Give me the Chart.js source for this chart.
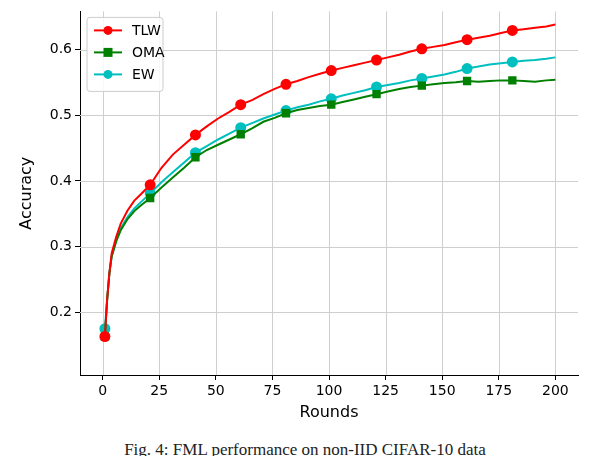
<!DOCTYPE html>
<html><head><meta charset="utf-8">
<script src="https://cdn.jsdelivr.net/npm/chart.js@4"></script>
<style>body{margin:0;background:#fff;width:610px;height:456px;overflow:hidden;position:relative}
#cap{position:absolute;left:0;top:440px;width:610px;text-align:center;font-family:'Liberation Serif',serif;font-size:17px;color:#222;white-space:nowrap}</style>
</head><body>
<div style="width:610px;height:422px"><canvas id="c"></canvas></div>
<div id="cap">Fig. 4: FML performance on non-IID CIFAR-10 data</div>
<script>
const rounds=[1,2,3,4,6,8,11,14,17,21,26,31,36,41,46,51,56,61,66,71,76,81,86,91,96,101,106,111,116,121,126,131,136,141,146,151,156,161,166,171,176,181,186,191,196,200];
const tlw=[0.163,0.22,0.26,0.29,0.315,0.335,0.355,0.37,0.38,0.394,0.42,0.44,0.455,0.47,0.483,0.495,0.505,0.516,0.523,0.532,0.54,0.547,0.552,0.558,0.563,0.568,0.572,0.576,0.58,0.584,0.588,0.592,0.597,0.601,0.604,0.607,0.611,0.615,0.618,0.621,0.625,0.629,0.631,0.633,0.635,0.638];
const oma=[0.163,0.22,0.26,0.285,0.308,0.325,0.342,0.354,0.363,0.374,0.39,0.405,0.42,0.436,0.447,0.455,0.463,0.471,0.48,0.49,0.496,0.503,0.508,0.511,0.514,0.516,0.52,0.524,0.528,0.532,0.536,0.54,0.543,0.545,0.547,0.549,0.55,0.552,0.551,0.552,0.553,0.553,0.552,0.551,0.553,0.554];
const ew=[0.175,0.22,0.26,0.285,0.31,0.328,0.345,0.358,0.368,0.381,0.398,0.413,0.428,0.443,0.453,0.463,0.472,0.481,0.488,0.495,0.501,0.507,0.512,0.516,0.521,0.525,0.53,0.534,0.538,0.543,0.546,0.549,0.553,0.556,0.559,0.562,0.566,0.571,0.574,0.577,0.579,0.581,0.583,0.584,0.586,0.588];
const xTicks=[0,25,50,75,100,125,150,175,200];
const yTicks=[0.2,0.3,0.4,0.5,0.6];
const names=['TLW','OMA','EW'];
const colors=['#ff0000','#008000','#00bfbf'];
const styles=['circle','rect','circle'];
const series=[tlw,oma,ew];
const mk=(i)=>ctx=>((rounds[ctx.dataIndex]-1)%20===0?(styles[i]==='rect'?4.5:4.5):0);
const datasets=series.map((s,i)=>({label:names[i],data:s.map((v,j)=>({x:rounds[j],y:v})),borderColor:colors[i],backgroundColor:colors[i],borderWidth:2,pointStyle:styles[i],pointRadius:mk(i),pointHoverRadius:0,tension:0}));
const gridPlugin={id:'gr',beforeDatasetsDraw(ch){const c=ch.ctx,a=ch.chartArea,sx=ch.scales.x,sy=ch.scales.y;c.save();c.strokeStyle='#cfcfcf';c.lineWidth=1;
xTicks.forEach(v=>{const p=Math.round(sx.getPixelForValue(v))+0.5;c.beginPath();c.moveTo(p,a.top);c.lineTo(p,a.bottom);c.stroke();});
yTicks.forEach(v=>{const p=Math.round(sy.getPixelForValue(v))+0.5;c.beginPath();c.moveTo(a.left,p);c.lineTo(a.right,p);c.stroke();});c.restore();}};
const legendPlugin={id:'lg',afterDraw(ch){const c=ch.ctx,a=ch.chartArea;const x=a.left+7,y=a.top+6,w=76,h=74;
c.save();c.fillStyle='rgba(255,255,255,0.85)';c.strokeStyle='#ccc';c.lineWidth=1;c.beginPath();c.roundRect(x,y,w,h,3);c.fill();c.stroke();
names.forEach((n,i)=>{const yy=y+13+i*22;c.strokeStyle=colors[i];c.fillStyle=colors[i];c.lineWidth=2;c.beginPath();c.moveTo(x+7,yy);c.lineTo(x+35,yy);c.stroke();
if(styles[i]==='rect'){c.fillRect(x+21-4.5,yy-4.5,9,9);}else{c.beginPath();c.arc(x+21,yy,4.5,0,Math.PI*2);c.fill();}
c.fillStyle='#000';c.font='14px "DejaVu Sans"';c.textBaseline='middle';c.fillText(n,x+45,yy+1);});c.restore();}};
new Chart(document.getElementById('c'),{type:'line',data:{datasets},plugins:[gridPlugin,legendPlugin],
options:{responsive:true,maintainAspectRatio:false,animation:false,layout:{padding:{top:5,right:32,left:17,bottom:0}},
plugins:{legend:{display:false},tooltip:{enabled:false}},
scales:{x:{type:'linear',min:-10,max:210,afterBuildTicks:s=>{s.ticks=xTicks.map(v=>({value:v}))},
ticks:{color:'#000',font:{family:'DejaVu Sans',size:14},maxRotation:0,autoSkip:false},
grid:{drawOnChartArea:false,tickColor:'#000',tickLength:5},border:{color:'#000'},
title:{display:true,text:'Rounds',color:'#000',font:{family:'DejaVu Sans',size:16},padding:{top:0,bottom:0}},afterFit:s=>{s.height=47}},
y:{min:0.1045,max:0.658,afterBuildTicks:s=>{s.ticks=yTicks.map(v=>({value:v}))},
ticks:{color:'#000',font:{family:'DejaVu Sans',size:14},callback:v=>v.toFixed(1)},
grid:{drawOnChartArea:false,tickColor:'#000',tickLength:5},border:{color:'#000'},
title:{display:true,text:'Accuracy',color:'#000',font:{family:'DejaVu Sans',size:16},padding:0},afterFit:s=>{s.width=63}}}}});
</script></body></html>
